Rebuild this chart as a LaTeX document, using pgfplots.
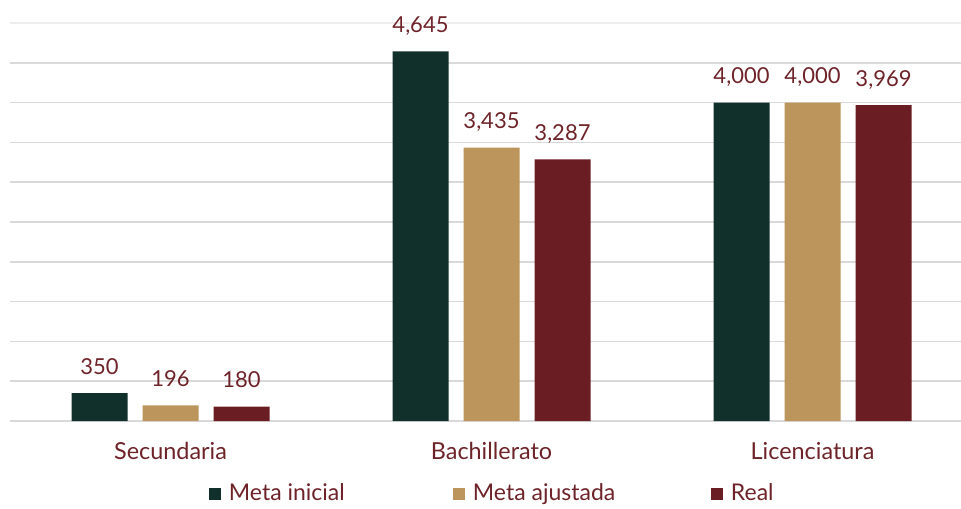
\documentclass[border=0pt]{standalone}
\usepackage{pgfplots}
\pgfplotsset{compat=1.18}
\usepackage{fontspec}
\setmainfont{Lato}
\definecolor{cgreen}{HTML}{12302B}
\definecolor{cgold}{HTML}{BC955C}
\definecolor{cred}{HTML}{6A1D22}
\definecolor{ctext}{HTML}{6E2329}
\definecolor{cgrid}{HTML}{D9D9D9}
\begin{document}
\begin{tikzpicture}
\useasboundingbox (0,0) rectangle (480.5pt,254pt);
\clip (0,0) rectangle (480.5pt,254pt);
\begin{axis}[
  scale only axis,
  width=481.5pt, height=199pt,
  at={(5pt,43.5pt)}, anchor=south west,
  xmin=-0.5, xmax=2.5,
  ymin=0, ymax=5000,
  axis line style={draw=none},
  major tick length=0pt,
  ytick={0,500,...,4500},
  yticklabels={},
  extra y ticks={5000},
  extra y tick labels={},
  extra y tick style={grid style={color=cgrid!45, line width=0.75pt}},
  ymajorgrids,
  grid style={color=cgrid, line width=0.75pt},
  xtick={0,1,2},
  xticklabels={Secundaria,Bachillerato,Licenciatura},
  xticklabel style={font=\fontsize{11.7}{13}\selectfont, text=ctext, yshift=-7pt},
  ybar, bar width=28pt,
  /pgf/number format/.cd, fixed, 1000 sep={,}, assume math mode=true, /pgfplots/.cd,
  nodes near coords,
  every node near coord/.append style={font=\fontsize{11}{13}\selectfont, text=ctext, inner sep=0pt, anchor=base, yshift=9.5pt},
  legend columns=3,
  legend style={draw=none, fill=none, inner sep=0pt, outer sep=0pt,
    at={(0.2066,-0.1834)}, anchor=west,
    font=\fontsize{11.5}{13}\selectfont, text=ctext,
    nodes={inner sep=0pt},
    /tikz/every odd column/.append style={column sep=4pt}},
]
\addplot[draw=none, fill=cgreen, bar shift=-35.5pt,
  legend image code/.code={\fill[cgreen] (0pt,-3pt) rectangle (6pt,3pt);}]
  coordinates {(0,350) (1,4645) (2,4000)};
\addlegendentry{\makebox[112pt][l]{Meta inicial}}
\addplot[draw=none, fill=cgold, bar shift=0pt,
  legend image code/.code={\fill[cgold] (0pt,-3pt) rectangle (6pt,3pt);}]
  coordinates {(0,196) (1,3435) (2,4000)};
\addlegendentry{\makebox[119pt][l]{Meta ajustada}}
\addplot[draw=none, fill=cred, bar shift=35.5pt,
  legend image code/.code={\fill[cred] (0pt,-3pt) rectangle (6pt,3pt);}]
  coordinates {(0,180) (1,3287) (2,3969)};
\addlegendentry{Real}
\end{axis}
\end{tikzpicture}
\end{document}
